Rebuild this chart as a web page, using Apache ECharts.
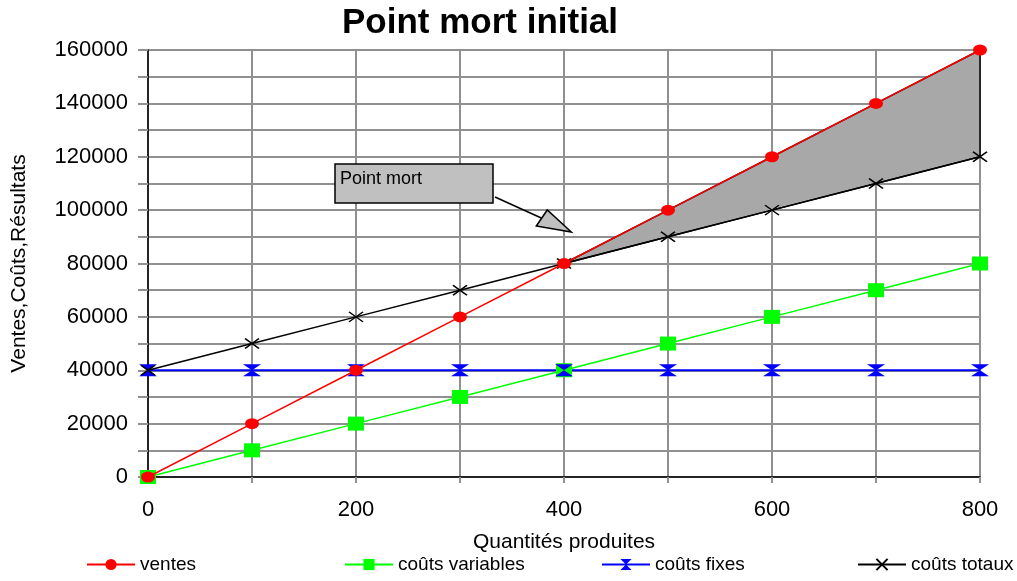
<!DOCTYPE html>
<html><head><meta charset="utf-8">
<script src="https://cdn.jsdelivr.net/npm/echarts@6/dist/echarts.min.js"></script>
<style>html,body{margin:0;padding:0;background:#fff}#c{width:1017px;height:581px}</style>
</head><body><div id="c"></div>
<script>
const quantities = [0, 100, 200, 300, 400, 500, 600, 700, 800];
const ventes = [0, 20000, 40000, 60000, 80000, 100000, 120000, 140000, 160000];
const coutsVariables = [0, 10000, 20000, 30000, 40000, 50000, 60000, 70000, 80000];
const coutsFixes = [40000, 40000, 40000, 40000, 40000, 40000, 40000, 40000, 40000];
const coutsTotaux = [40000, 50000, 60000, 70000, 80000, 90000, 100000, 110000, 120000];
const seriesNames = ['ventes', 'coûts variables', 'coûts fixes', 'coûts totaux'];
const breakEvenQ = 400;
const calloutText = 'Point mort';
// annotation anchor in data units
const calloutTip = [407, 91800];
const calloutBox = [180, 117300, 332, 102700];

const FONT = '"Liberation Sans", Arial, sans-serif';
const pair = (ys) => quantities.map((q, i) => [q, ys[i]]);

const hourglass = 'path://M0,0L10,0L5,5L10,10L0,10L5,5Z';
const cross = 'path://M0,0L10,10M10,0L0,10';

const chart = echarts.init(document.getElementById('c'), null, {renderer: 'canvas'});

const profitPoly = [];
quantities.forEach((q, i) => { if (q >= breakEvenQ) profitPoly.push([q, ventes[i]]); });
for (let i = quantities.length - 1; i >= 0; i--) { if (quantities[i] >= breakEvenQ) profitPoly.push([quantities[i], coutsTotaux[i]]); }

const legendBase = {bottom: 7, padding: 0, itemWidth: 48, itemHeight: 14, itemGap: 6,
  textStyle: {fontFamily: FONT, fontSize: 19, color: '#000'}};

chart.setOption({
  animation: false,
  title: {text: 'Point mort initial', left: 475, top: 1, textAlign: 'center',
    textStyle: {fontFamily: FONT, fontSize: 35, fontWeight: 'bold', color: '#000'}},
  legend: [
    Object.assign({}, legendBase, {data: [seriesNames[0]], left: 86}),
    Object.assign({}, legendBase, {data: [seriesNames[1]], left: 344}),
    Object.assign({}, legendBase, {data: [seriesNames[2]], left: 601}),
    Object.assign({}, legendBase, {data: [seriesNames[3]], left: 857})
  ],
  grid: {left: 148, right: 37, top: 50, bottom: 104, containLabel: false, outerBoundsMode: 'none',
    show: true, borderColor: '#000', borderWidth: 1.5, backgroundColor: 'transparent'},
  xAxis: {type: 'value', min: 0, max: 800, interval: 100,
    name: 'Quantités produites', nameLocation: 'middle', nameGap: 55,
    nameTextStyle: {fontFamily: FONT, fontSize: 21, color: '#000'},
    axisLine: {show: true, onZero: false, lineStyle: {color: '#000', width: 1.5}},
    axisTick: {show: true, length: 6, lineStyle: {color: '#909090', width: 2}},
    axisLabel: {fontFamily: FONT, fontSize: 22, color: '#000', margin: 22,
      formatter: v => (v % 200 === 0 ? String(v) : '')},
    splitLine: {show: true, lineStyle: {color: '#909090', width: 2}}},
  yAxis: {type: 'value', min: 0, max: 160000, interval: 10000,
    name: 'Ventes,Coûts,Résultats', nameLocation: 'middle', nameGap: 118,
    nameTextStyle: {fontFamily: FONT, fontSize: 21, color: '#000'},
    axisLine: {show: true, lineStyle: {color: '#000', width: 1.5}},
    axisTick: {show: true, length: 10, lineStyle: {color: '#909090', width: 2}},
    axisLabel: {fontFamily: FONT, fontSize: 22, color: '#000', margin: 20,
      formatter: v => (v % 20000 === 0 ? String(v) : '')},
    splitLine: {show: true, lineStyle: {color: '#909090', width: 2}}},
  series: [
    {type: 'custom', name: 'profit', z: 1, silent: true, data: [[0, 0]],
      renderItem: (params, api) => ({
        type: 'polygon',
        shape: {points: profitPoly.map(p => api.coord(p))},
        style: {fill: '#a8a8a8', stroke: '#000', lineWidth: 1.5}
      })},
    {type: 'line', name: seriesNames[1], z: 3, data: pair(coutsVariables),
      symbol: 'rect', symbolSize: [16, 14], lineStyle: {color: '#00ff00', width: 1.5},
      itemStyle: {color: '#00ff00'}},
    {type: 'line', name: seriesNames[2], z: 3, data: pair(coutsFixes),
      symbol: hourglass, symbolSize: [18, 12], lineStyle: {color: '#0000ff', width: 2},
      itemStyle: {color: '#0000ff'}},
    {type: 'line', name: seriesNames[3], z: 3, data: pair(coutsTotaux),
      symbol: cross, symbolSize: [14, 10], lineStyle: {color: '#000', width: 1.5},
      itemStyle: {color: 'transparent', borderColor: '#000', borderWidth: 1.5}},
    {type: 'line', name: seriesNames[0], z: 4, data: pair(ventes),
      symbol: 'circle', symbolSize: [14, 11], lineStyle: {color: '#ff0000', width: 1.5},
      itemStyle: {color: '#ff0000'}}
  ]
});

function drawCallout() {
  const tip = chart.convertToPixel({gridIndex: 0}, calloutTip);
  const b1 = chart.convertToPixel({gridIndex: 0}, [calloutBox[0], calloutBox[1]]);
  const b2 = chart.convertToPixel({gridIndex: 0}, [calloutBox[2], calloutBox[3]]);
  const x0 = Math.round(b1[0]), y0 = Math.round(b1[1]), w = Math.round(b2[0] - b1[0]), h = Math.round(b2[1] - b1[1]);
  const tx = tip[0], ty = tip[1];
  chart.setOption({graphic: [
    {type: 'rect', z: 10, shape: {x: x0, y: y0, width: w, height: h},
      style: {fill: '#c0c0c0', stroke: '#000', lineWidth: 1.5}},
    {type: 'text', z: 11, x: x0 + 5, y: y0 + 6,
      style: {text: calloutText, fontFamily: FONT, fontSize: 18, fill: '#000'}},
    {type: 'line', z: 10, shape: {x1: x0 + w + 2, y1: y0 + h - 6, x2: tx - 30, y2: ty - 14},
      style: {stroke: '#000', lineWidth: 1.5}},
    {type: 'polygon', z: 10, shape: {points: [[tx, ty], [tx - 24, ty - 22], [tx - 35, ty - 6]]},
      style: {fill: '#c0c0c0', stroke: '#000', lineWidth: 1.5}}
  ]});
}
drawCallout();
</script></body></html>
